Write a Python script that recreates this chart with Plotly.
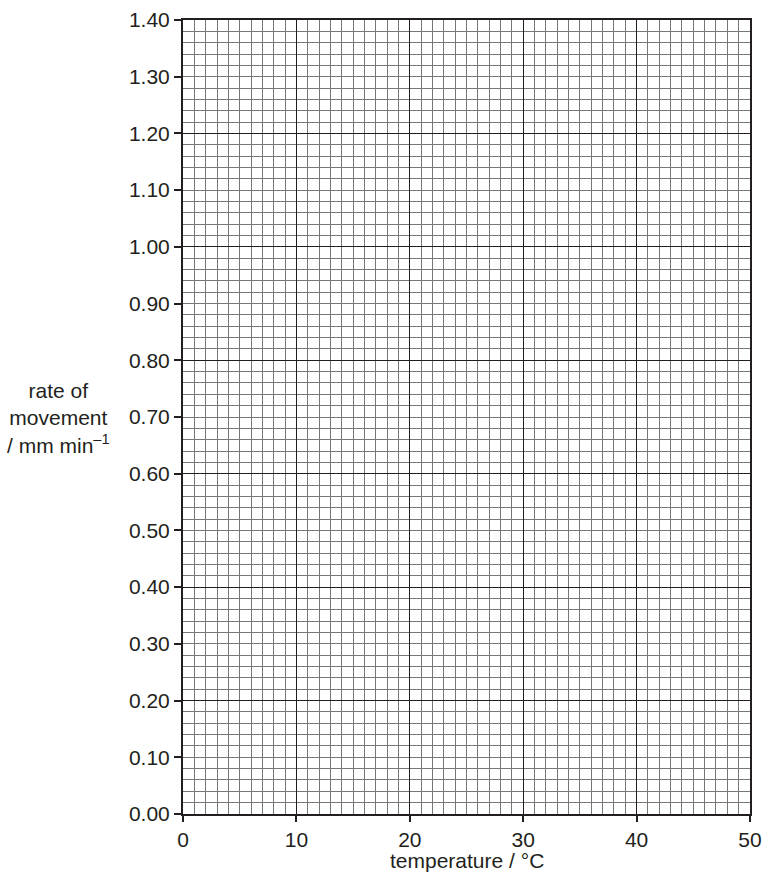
"""
Blank graph grid: rate of movement vs temperature (exam-style answer grid)
"""
import plotly.graph_objects as go

# eixos: só a grade, sem pontos
x_range = [0, 50]
y_range = [0, 1.40]
x_ticks = [0, 10, 20, 30, 40, 50]
y_ticks = [round(i * 0.1, 2) for i in range(15)]
y_labels = [f"{v:.2f}" for v in y_ticks]

W, H = 763, 876
ML, MR, MT, MB = 183, 13, 20, 62

INK = "#231f20"
MINOR = "#777777"
FONT = dict(family="Liberation Sans, Arial, sans-serif", size=21, color=INK)

def px_to_paper(px, py):
    """pixel da janela -> coordenada de papel"""
    pw, ph = W - ML - MR, H - MT - MB
    return (px - ML) / pw, (H - MB - py) / ph

fig = go.Figure()
# trace vazio para ancorar os dois eixos y
fig.add_trace(go.Scatter(x=[0], y=[0], mode="markers", marker=dict(opacity=0),
                         showlegend=False, hoverinfo="skip", yaxis="y"))
fig.add_trace(go.Scatter(x=[0], y=[0], mode="markers", marker=dict(opacity=0),
                         showlegend=False, hoverinfo="skip", yaxis="y2"))

tx, ty = px_to_paper(58, 418)
bx, by = px_to_paper(467, 860)

fig.update_layout(
    width=W, height=H,
    paper_bgcolor="white", plot_bgcolor="white",
    margin=dict(l=ML, r=MR, t=MT, b=MB),
    showlegend=False,
    font=FONT,
    xaxis=dict(
        range=x_range, tickvals=x_ticks, ticktext=[str(v) for v in x_ticks],
        showgrid=True, gridcolor=INK, gridwidth=1.3,
        minor=dict(dtick=1, showgrid=True, gridcolor=MINOR, gridwidth=0.8),
        ticks="outside", ticklen=6, tickwidth=1.5, tickcolor=INK,
        showline=True, linecolor=INK, linewidth=2, mirror=True,
        zeroline=False, fixedrange=True, automargin=False,
        tickfont=FONT,
    ),
    yaxis=dict(
        range=y_range, dtick=0.2, tick0=0,
        showgrid=True, gridcolor=INK, gridwidth=1.3,
        minor=dict(dtick=0.02, showgrid=True, gridcolor=MINOR, gridwidth=0.8),
        showticklabels=False, ticks="",
        showline=True, linecolor=INK, linewidth=2, mirror=True,
        zeroline=False, fixedrange=True, automargin=False,
    ),
    yaxis2=dict(
        range=y_range, overlaying="y", side="left",
        tickvals=y_ticks, ticktext=y_labels,
        showgrid=False, zeroline=False,
        ticks="outside", ticklen=7, tickwidth=1.5, tickcolor=INK,
        showline=True, linecolor=INK, linewidth=2,
        tickfont=FONT, fixedrange=True, automargin=False,
    ),
    annotations=[
        dict(text="rate of<br>movement<br>/ mm min<sup>–1</sup>",
             x=tx, y=ty, xref="paper", yref="paper", showarrow=False,
             font=FONT, align="center", xanchor="center", yanchor="middle"),
        dict(text="temperature / °C",
             x=bx, y=by, xref="paper", yref="paper", showarrow=False,
             font=FONT, xanchor="center", yanchor="middle"),
    ],
)

fig.write_html("out.html", config=dict(displayModeBar=False),
               post_script="document.body.style.margin='0';"
                           "document.body.style.overflow='hidden';")
